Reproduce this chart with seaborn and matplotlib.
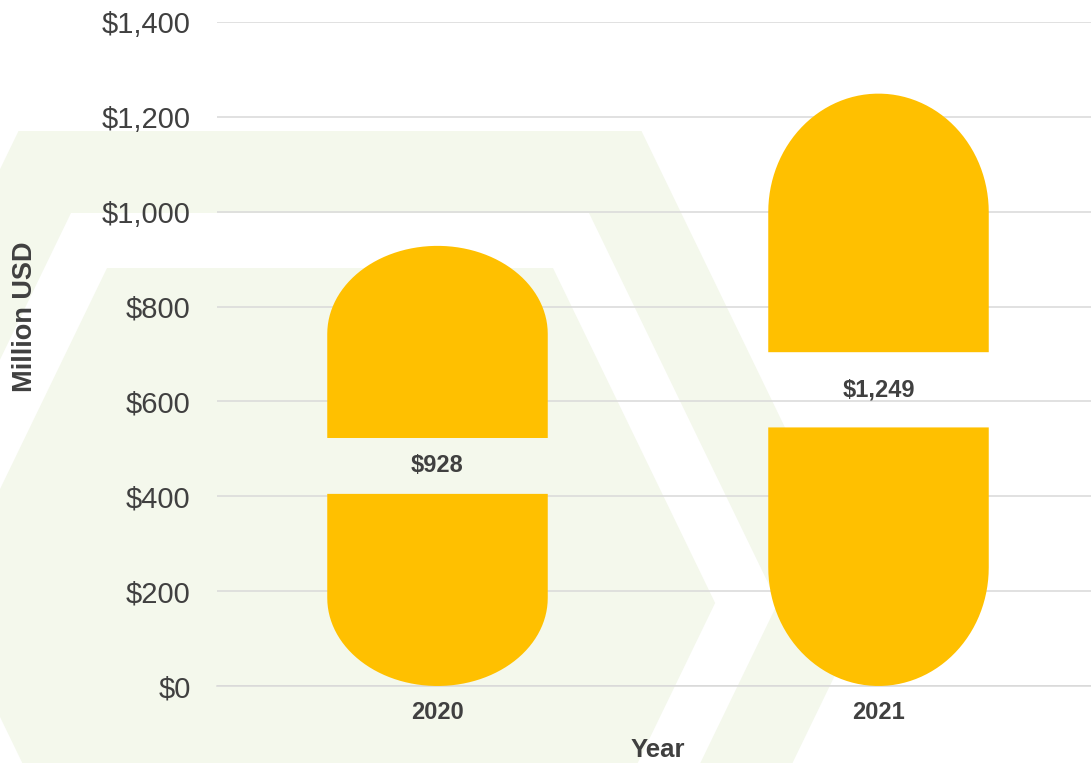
import numpy as np
import pandas as pd
import matplotlib
matplotlib.use("Agg")
import matplotlib.pyplot as plt
import seaborn as sns
from matplotlib.patches import Polygon, PathPatch
from matplotlib.path import Path

# data
years = ["2020", "2021"]
values = [928, 1249]
yticks = [0, 200, 400, 600, 800, 1000, 1200, 1400]

df = pd.DataFrame({"Year": years, "Million USD": values})

sns.set_style("white")
plt.rcParams["font.family"] = ["Liberation Sans", "DejaVu Sans"]

W, H = 1091, 763
fig = plt.figure(figsize=(W / 100, H / 100), dpi=100)
fig.patch.set_facecolor("white")

# background hexagons (pixel coords -> figure fraction)
def hexagon(cx, cy, half_w, half_h, slope=0.484):
    pts = [(cx - half_w, cy - half_h), (cx + half_w, cy - half_h),
           (cx + half_w + half_h * slope, cy), (cx + half_w, cy + half_h),
           (cx - half_w, cy + half_h), (cx - half_w - half_h * slope, cy)]
    return [(x / W, 1 - y / H) for x, y in pts]

for hw, hh, col, z in [(311.5, 472, "#F4F8EC", -3),
                       (259, 390, "white", -2),
                       (223, 335, "#F4F8EC", -1)]:
    fig.patches.append(Polygon(hexagon(330, 603, hw, hh), closed=True,
                               facecolor=col, edgecolor="none",
                               transform=fig.transFigure, zorder=z))

ax = fig.add_axes([217 / W, 1 - 686 / H, (1099 - 217) / W, (686 - 22) / H])
ax.set_facecolor("none")

sns.barplot(data=df, x="Year", y="Million USD", color="#FFC000",
            width=0.5, ax=ax, zorder=3)

# turn the bars into split pills
for p, v in zip(list(ax.patches), values):
    x0, w, h = p.get_x(), p.get_width(), p.get_height()
    p.set_visible(False)
    cx, a = x0 + w / 2, w / 2
    r = 0.2 * h
    gap = 0.127 * h
    lo, hi = h / 2 - gap / 2, h / 2 + gap / 2
    t = np.linspace(np.pi, 2 * np.pi, 60)
    bottom = [(x0, lo)] + [(cx + a * np.cos(s), r + r * np.sin(s)) for s in t] + [(x0 + w, lo), (x0, lo)]
    t2 = np.linspace(np.pi, 0, 60)
    top = [(x0, hi)] + [(cx + a * np.cos(s), h - r + r * np.sin(s)) for s in t2] + [(x0 + w, hi), (x0, hi)]
    for pts in (bottom, top):
        codes = [Path.MOVETO] + [Path.LINETO] * (len(pts) - 2) + [Path.CLOSEPOLY]
        ax.add_patch(PathPatch(Path(pts, codes), facecolor="#FFC000",
                               edgecolor="none", zorder=3))
    ax.text(cx, h / 2, f"${v:,.0f}", ha="center", va="center",
            fontsize=17, fontweight="bold", color="#404040", zorder=4)

ax.set_xlim(-0.5, 1.5)
ax.set_ylim(0, 1400)
ax.set_yticks(yticks)
ax.set_yticklabels([f"${t:,.0f}" for t in yticks])
ax.set_axisbelow(True)
ax.yaxis.grid(True, color="#D9D9D9", linewidth=1.1)
ax.xaxis.grid(False)

for s in ["top", "right", "left"]:
    ax.spines[s].set_visible(False)
ax.spines["bottom"].set_color("#D9D9D9")
ax.spines["bottom"].set_linewidth(1.1)

ax.tick_params(axis="y", length=0, pad=19, labelsize=21, labelcolor="#404040")
ax.tick_params(axis="x", which="major", length=0, pad=11, labelsize=17,
               labelcolor="#404040")
for lab in ax.get_xticklabels():
    lab.set_fontweight("bold")
ax.set_xticks([-0.5, 0.5, 1.5], minor=True)
ax.tick_params(axis="x", which="minor", length=5, width=1.1, color="#D9D9D9")

ax.set_xlabel("Year", fontsize=18.5, fontweight="bold", color="#404040")
ax.set_ylabel("Million USD", fontsize=19.5, fontweight="bold", color="#404040")
ax.xaxis.label.set_va("center")
ax.xaxis.set_label_coords(0.5, (686 - 750) / 664)
ax.yaxis.label.set_va("center")
ax.yaxis.set_label_coords((25 - 217) / 882, (686 - 317) / 664)

fig.savefig("out.png", dpi=100)
